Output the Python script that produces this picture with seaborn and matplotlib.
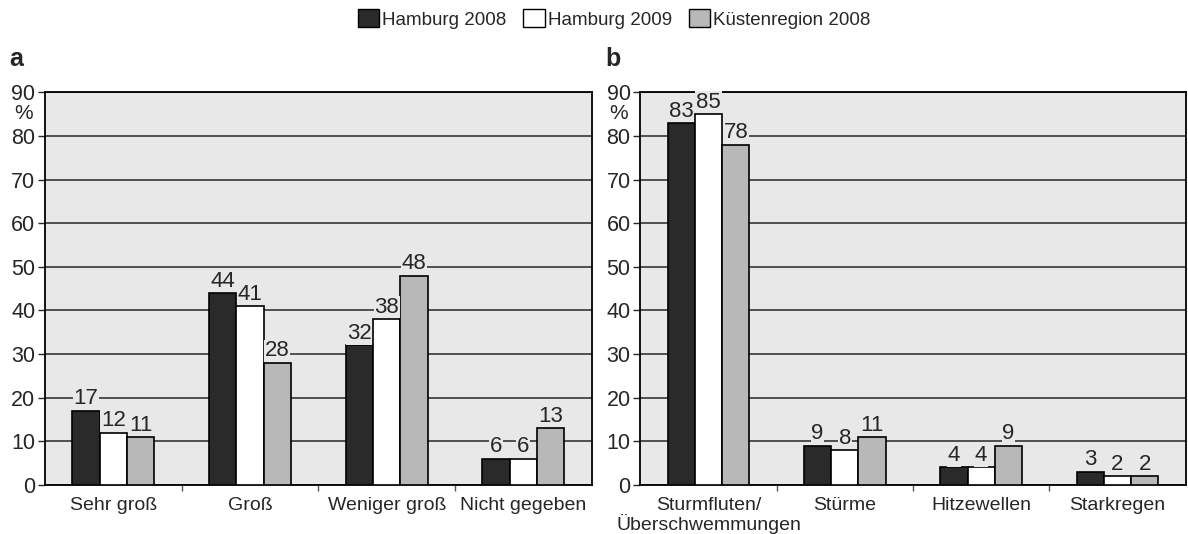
import pandas as pd
import seaborn as sns
import matplotlib.pyplot as plt
from matplotlib.ticker import FixedLocator

series = ['Hamburg 2008', 'Hamburg 2009', 'Küstenregion 2008']
colors = ['#2a2a2a', '#ffffff', '#b8b8b8']

cats_a = ['Sehr groß', 'Groß', 'Weniger groß', 'Nicht gegeben']
vals_a = {
    'Hamburg 2008': [17, 44, 32, 6],
    'Hamburg 2009': [12, 41, 38, 6],
    'Küstenregion 2008': [11, 28, 48, 13],
}

cats_b = ['Sturmfluten/\nÜberschwemmungen', 'Stürme', 'Hitzewellen', 'Starkregen']
vals_b = {
    'Hamburg 2008': [83, 9, 4, 3],
    'Hamburg 2009': [85, 8, 4, 2],
    'Küstenregion 2008': [78, 11, 9, 2],
}

sns.set_style('white')
plt.rcParams['font.family'] = ['Liberation Sans', 'DejaVu Sans']

bg = '#e8e8e8'

fig = plt.figure(figsize=(11.88, 5.34), dpi=100)
ax_a = fig.add_axes([0.038, 0.092, 0.460, 0.735])
ax_b = fig.add_axes([0.539, 0.092, 0.459, 0.735])


def long_df(cats, vals):
    rows = []
    for s in series:
        for c, v in zip(cats, vals[s]):
            rows.append({'cat': c, 'series': s, 'value': v})
    return pd.DataFrame(rows)


for ax, cats, vals, tag in [(ax_a, cats_a, vals_a, 'a'), (ax_b, cats_b, vals_b, 'b')]:
    df = long_df(cats, vals)
    ax.set_facecolor(bg)
    sns.barplot(
        data=df, x='cat', y='value', hue='series',
        order=cats, hue_order=series, palette=colors,
        width=0.6, gap=0, edgecolor='black', linewidth=1.2,
        legend=False, ax=ax, zorder=3
    )
    ax.set_ylim(0, 90)
    ax.set_xlim(-0.5, len(cats) - 0.5)
    ax.set_yticks(range(0, 100, 10))
    ax.yaxis.grid(True, color='#444444', linewidth=1.3, zorder=0)
    ax.set_axisbelow(True)
    for sp in ax.spines.values():
        sp.set_color('black')
        sp.set_linewidth(1.3)
    ax.tick_params(axis='y', direction='out', length=5, width=1, labelsize=15.5, pad=2, left=True)
    ax.tick_params(axis='x', which='major', length=0, labelsize=14, pad=9)
    for lbl in ax.get_xticklabels():
        lbl.set_linespacing(0.95)
    ax.xaxis.set_minor_locator(FixedLocator([i + 0.5 for i in range(len(cats) - 1)]))
    ax.tick_params(axis='x', which='minor', bottom=True, direction='out', length=4, width=1, color='#555555')
    ax.set_xlabel('')
    ax.set_ylabel('')
    for cont in ax.containers:
        ax.bar_label(cont, fontsize=16, padding=1,
                     bbox=dict(facecolor=bg, edgecolor='none', pad=0.5), zorder=4)
    ax.text(-0.04, 85.2, '%', transform=ax.get_yaxis_transform(), fontsize=15, ha='center', va='center')
    ax.text(-0.065, 1.055, tag, transform=ax.transAxes, fontsize=18, fontweight='bold', ha='left', va='bottom')

handles = [plt.Rectangle((0, 0), 1, 1, facecolor=c, edgecolor='black', linewidth=1) for c in colors]
fig.legend(handles, series, loc='upper center', bbox_to_anchor=(0.517, 1.015), ncol=3, frameon=False,
           fontsize=13.5, handlelength=1.15, handleheight=1.15, handletextpad=0.15, columnspacing=0.9)

plt.savefig('out.png', dpi=100)
